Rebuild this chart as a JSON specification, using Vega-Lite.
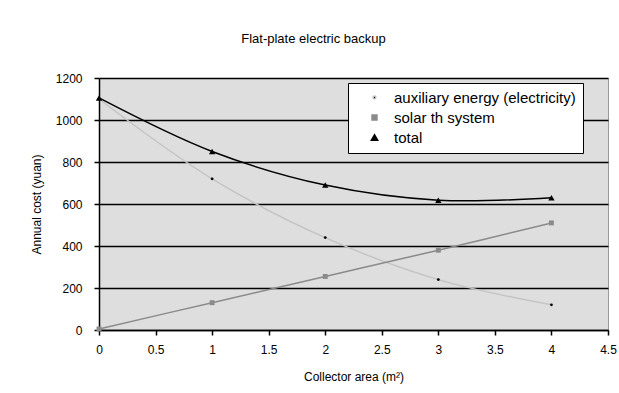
{
  "$schema": "https://vega.github.io/schema/vega-lite/v6.json",
  "width": 509,
  "height": 252,
  "autosize": "none",
  "padding": {"left": 99, "top": 78, "right": 11, "bottom": 63},
  "background": "white",
  "title": {
    "text": "Flat-plate electric backup",
    "fontSize": 13,
    "fontWeight": "normal",
    "font": "Liberation Sans",
    "color": "black",
    "anchor": "middle",
    "dx": -40,
    "offset": 26
  },
  "data": {
    "values": [
      {"area": 0, "cost": 1100, "series": "auxiliary energy (electricity)"},
      {"area": 1, "cost": 720, "series": "auxiliary energy (electricity)"},
      {"area": 2, "cost": 440, "series": "auxiliary energy (electricity)"},
      {"area": 3, "cost": 240, "series": "auxiliary energy (electricity)"},
      {"area": 4, "cost": 120, "series": "auxiliary energy (electricity)"},
      {"area": 0, "cost": 5, "series": "solar th system"},
      {"area": 1, "cost": 130, "series": "solar th system"},
      {"area": 2, "cost": 255, "series": "solar th system"},
      {"area": 3, "cost": 380, "series": "solar th system"},
      {"area": 4, "cost": 510, "series": "solar th system"},
      {"area": 0, "cost": 1105, "series": "total"},
      {"area": 1, "cost": 850, "series": "total"},
      {"area": 2, "cost": 690, "series": "total"},
      {"area": 3, "cost": 618, "series": "total"},
      {"area": 4, "cost": 630, "series": "total"}
    ]
  },
  "encoding": {
    "x": {
      "field": "area",
      "type": "quantitative",
      "scale": {"domain": [0, 4.5], "nice": false},
      "axis": {
        "title": "Collector area (m²)",
        "values": [0, 0.5, 1, 1.5, 2, 2.5, 3, 3.5, 4, 4.5],
        "format": "~g",
        "grid": false,
        "domainColor": "black",
        "domainWidth": 1.5,
        "tickColor": "black",
        "tickWidth": 1.5,
        "tickSize": 5,
        "labelPadding": 9,
        "labelFontSize": 12,
        "labelColor": "black",
        "labelFont": "Liberation Sans",
        "titleFont": "Liberation Sans",
        "titleFontSize": 12,
        "titleFontWeight": "normal",
        "titleColor": "black",
        "titlePadding": 16,
        "labelFlush": false
      }
    },
    "y": {
      "field": "cost",
      "type": "quantitative",
      "scale": {"domain": [0, 1200], "nice": false},
      "axis": {
        "title": "Annual cost (yuan)",
        "values": [0, 200, 400, 600, 800, 1000, 1200],
        "format": "d",
        "grid": true,
        "gridColor": "black",
        "gridWidth": 1.5,
        "domainColor": "black",
        "domainWidth": 1.5,
        "tickColor": "black",
        "tickWidth": 1.5,
        "tickSize": 5,
        "labelPadding": 12,
        "labelFontSize": 12,
        "labelColor": "black",
        "labelFont": "Liberation Sans",
        "titleFont": "Liberation Sans",
        "titleFontSize": 12,
        "titleFontWeight": "normal",
        "titleColor": "black",
        "titlePadding": 12
      }
    }
  },
  "layer": [
    {
      "mark": {"type": "line", "interpolate": "catmull-rom", "strokeWidth": 1.5},
      "encoding": {
        "stroke": {
          "field": "series",
          "type": "nominal",
          "title": null,
          "scale": {
            "domain": ["auxiliary energy (electricity)", "solar th system", "total"],
            "range": ["#c4c4c4", "#8a8a8a", "#000000"]
          },
          "legend": {
            "title": null,
            "orient": "none",
            "legendX": 249,
            "legendY": 5,
            "fillColor": "white",
            "strokeColor": "black",
            "padding": 7,
            "rowPadding": 4,
            "symbolOffset": 12,
            "labelOffset": 12,
            "labelFontSize": 15,
            "labelFont": "Liberation Sans",
            "labelColor": "black",
            "symbolStrokeWidth": 1.5,
            "labelLimit": 300
          }
        }
      }
    },
    {
      "mark": {"type": "point", "filled": true, "opacity": 1},
      "encoding": {
        "shape": {
          "field": "series",
          "type": "nominal",
          "title": null,
          "scale": {
            "domain": ["auxiliary energy (electricity)", "solar th system", "total"],
            "range": ["circle", "square", "triangle-up"]
          }
        },
        "fill": {
          "field": "series",
          "type": "nominal",
          "title": null,
          "scale": {
            "domain": ["auxiliary energy (electricity)", "solar th system", "total"],
            "range": ["#000000", "#8a8a8a", "#000000"]
          }
        },
        "size": {
          "field": "series",
          "type": "nominal",
          "title": null,
          "scale": {
            "domain": ["auxiliary energy (electricity)", "solar th system", "total"],
            "range": [8, 40, 30]
          }
        }
      }
    }
  ],
  "config": {
    "view": {"fill": "#dedede", "stroke": "#9a9a9a", "strokeWidth": 1}
  }
}
